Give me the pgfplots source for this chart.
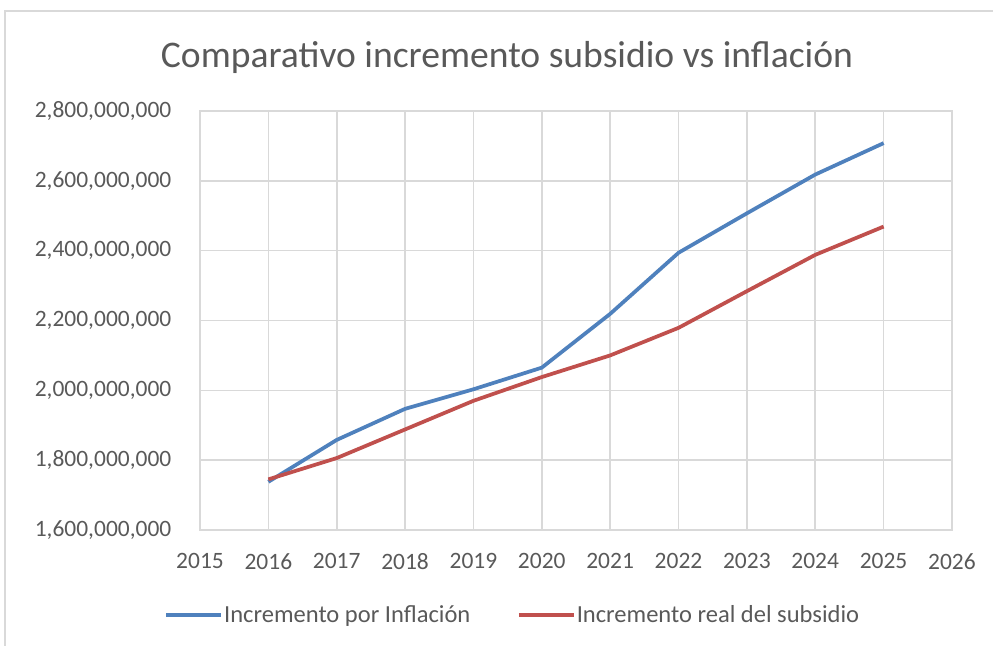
\documentclass[border=0pt]{standalone}
\usepackage{fontspec}
\setmainfont{Carlito}
\usepackage{pgfplots}
\pgfplotsset{compat=1.18}
\definecolor{cblue}{HTML}{4F81BD}
\definecolor{cred}{HTML}{C0504D}
\definecolor{cgrid}{HTML}{D9D9D9}
\definecolor{ctxt}{HTML}{595959}
\begin{document}
\begin{tikzpicture}[x=0.75pt,y=0.75pt]
\useasboundingbox (0,0) rectangle (993,646);
\draw[cgrid, line width=1.2pt] (5,0) -- (5,635) -- (993,635);
\node[text=ctxt, font=\fontsize{28.2}{33}\selectfont] at (507,589) {Comparativo incremento subsidio vs inflación};
\begin{axis}[
  at={(150pt,87pt)}, anchor=south west,
  scale only axis, width=564pt, height=314.25pt,
  xmin=2015, xmax=2026, ymin=1600000000, ymax=2800000000,
  xtick={2015,...,2026},
  ytick={1600000000,1800000000,2000000000,2200000000,2400000000,2600000000,2800000000},
  scaled y ticks=false,
  grid=major, major grid style={cgrid, line width=1.2pt},
  axis line style={cgrid, line width=1.2pt},
  tick style={draw=none},
  /pgf/number format/assume math mode=true,
  ticklabel style={text=ctxt, font=\fontsize{17.6}{20}\selectfont},
  xticklabel style={/pgf/number format/1000 sep={}, yshift=-14pt},
  yticklabel style={/pgf/number format/.cd, fixed, precision=0, 1000 sep={,}, /tikz/.cd, xshift=-18pt},
  legend style={at={(0.4155,-0.203)}, anchor=center, draw=none, fill=none,
    legend columns=2, font=\fontsize{18.4}{21}\selectfont, text=ctxt,
    /tikz/every even column/.append style={column sep=34pt},
    nodes={inner xsep=1pt},
    inner sep=0pt},
  legend cell align=left,
  legend image code/.code={\draw[#1] (0pt,0pt) -- (41pt,0pt);},
]
\addplot[cblue, line width=2.8pt] coordinates {
(2016,1738000000) (2017,1858000000) (2018,1947000000) (2019,2003000000) (2020,2065000000)
(2021,2219000000) (2022,2394000000) (2023,2507000000) (2024,2618000000) (2025,2708000000)};
\addlegendentry{Incremento por Inflación}
\addplot[cred, line width=2.8pt] coordinates {
(2016,1745000000) (2017,1806000000) (2018,1888000000) (2019,1970000000) (2020,2038000000)
(2021,2100000000) (2022,2179000000) (2023,2284000000) (2024,2388000000) (2025,2469000000)};
\addlegendentry{Incremento real del subsidio}
\end{axis}
\end{tikzpicture}
\end{document}
